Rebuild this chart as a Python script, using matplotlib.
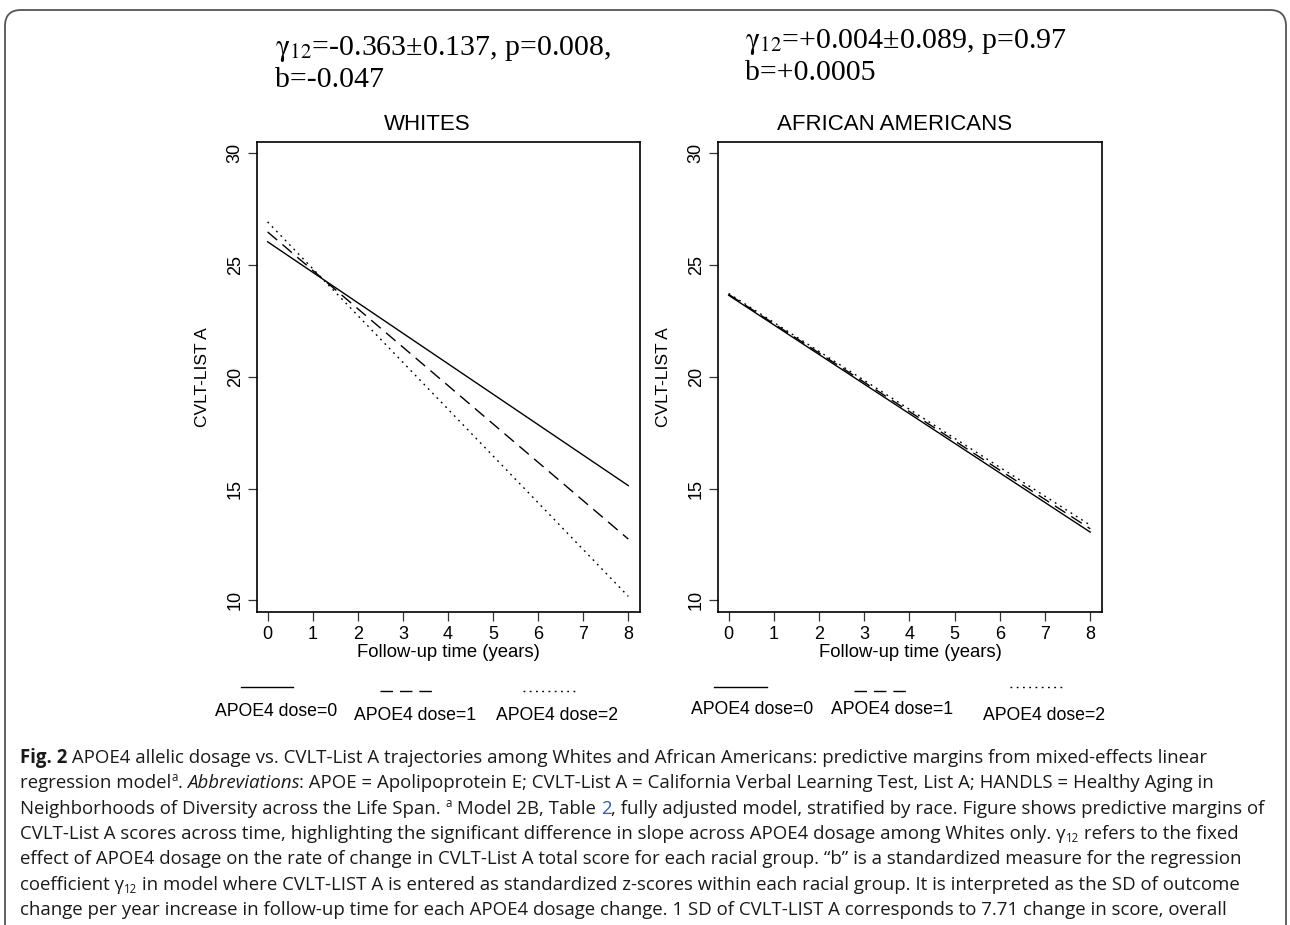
import matplotlib
matplotlib.use("Agg")
import matplotlib.pyplot as plt
from matplotlib.lines import Line2D
from matplotlib.patches import FancyBboxPatch
from matplotlib.transforms import IdentityTransform

# data
years = [0, 8]
doses = ["APOE4 dose=0", "APOE4 dose=1", "APOE4 dose=2"]
whites = [[26.03, 15.13], [26.47, 12.74], [26.92, 10.18]]
african_americans = [[23.64, 13.05], [23.68, 13.2], [23.72, 13.36]]
panel_titles = ["WHITES", "AFRICAN AMERICANS"]
stats_text = [
    [r"$\mathrm{\gamma}_{12}$=-0.363±0.137, p=0.008,", "b=-0.047"],
    [r"$\mathrm{\gamma}_{12}$=+0.004±0.089, p=0.97", "b=+0.0005"],
]
yticks = [10, 15, 20, 25, 30]
xticks = list(range(0, 9))

W, H = 1290, 925
plt.rcParams["font.family"] = ["Liberation Sans", "DejaVu Sans"]
plt.rcParams["mathtext.fontset"] = "stix"

styles = ["-", (0, (9, 5)), (0, (1.3, 3.2))]

fig = plt.figure(figsize=(W / 100, H / 100), dpi=100)


def fx(px):
    return px / W


def fy(py):
    return 1 - py / H


axes_px = [(257, 640), (718, 1102)]
for i, (x0, x1) in enumerate(axes_px):
    ax = fig.add_axes([fx(x0), fy(612), fx(x1 - x0), (612 - 142) / H])
    data = whites if i == 0 else african_americans
    for vals, ls in zip(data, styles):
        ax.plot(years, vals, color="black", lw=1.0, linestyle=ls)
    ax.set_xlim(-0.235, 8.26)
    ax.set_ylim(9.48, 30.49)
    ax.set_xticks(xticks)
    ax.set_yticks(yticks)
    ax.tick_params(axis="both", length=6.5, width=0.9, color="#333333",
                   labelsize=13)
    ax.tick_params(axis="x", pad=3.5)
    ax.tick_params(axis="y", pad=3)
    for lab in ax.get_yticklabels():
        lab.set_rotation(90)
        lab.set_va("center")
    for sp in ax.spines.values():
        sp.set_linewidth(1.2)
    ax.set_xlabel("Follow-up time (years)", fontsize=13.3, labelpad=1)
    ax.set_ylabel("CVLT-LIST A", fontsize=12.5, labelpad=12)

# panel titles (centred over the whole panel, a bit left of the axes)
fig.text(fx(427), fy(125), panel_titles[0], fontsize=16, ha="center", va="center")
fig.text(fx(895), fy(125), panel_titles[1], fontsize=16, ha="center", va="center")

# stats above each panel
serif = ["Liberation Serif", "DejaVu Serif"]
for (xp, ys), lines in zip([(275, (55, 87)), (745, (48, 80))], stats_text):
    for yb, s in zip(ys, lines):
        fig.text(fx(xp), fy(yb), s, fontsize=21.5, family=serif, va="baseline")

# legends under each panel
leg_lines = [[(241, 293, 687), (380, 432, 691), (523, 577, 691)],
             [(714, 767, 687), (854, 907, 691), (1010, 1064, 687)]]
leg_labels = [[(276, 711), (415, 715), (557, 715)],
              [(752, 710), (892, 710), (1044, 715)]]
for segs, labs in zip(leg_lines, leg_labels):
    for (a, b, yy), (cx, cy), ls, name in zip(segs, labs, styles, doses):
        fig.add_artist(Line2D([fx(a), fx(b)], [fy(yy), fy(yy)], color="black",
                              lw=1.0, linestyle=ls, transform=fig.transFigure))
        fig.text(fx(cx), fy(cy), name, fontsize=12.7, ha="center", va="center")

# rounded frame, open at the bottom
fig.add_artist(FancyBboxPatch((5, -60), W - 9, H - 10 + 60,
                              boxstyle="round,pad=0,rounding_size=16",
                              fc="none", ec="#555555", lw=1.3,
                              transform=IdentityTransform()))

# caption
cap_font = ["Open Sans", "DejaVu Sans"]
cap_size = 13.4
caption = [
    [("Fig. 2", "b"), (" APOE4 allelic dosage vs. CVLT-List A trajectories among Whites and African Americans: predictive margins from mixed-effects linear", "n")],
    [("regression model", "n"), ("a", "sup"), (". ", "n"), ("Abbreviations", "i"),
     (": APOE = Apolipoprotein E; CVLT-List A = California Verbal Learning Test, List A; HANDLS = Healthy Aging in", "n")],
    [("Neighborhoods of Diversity across the Life Span. ", "n"), ("a", "sup"), (" Model 2B, Table ", "n"),
     ("2", "link"), (", fully adjusted model, stratified by race. Figure shows predictive margins of", "n")],
    [("CVLT-List A scores across time, highlighting the significant difference in slope across APOE4 dosage among Whites only. γ", "n"),
     ("12", "sub"), (" refers to the fixed", "n")],
    [("effect of APOE4 dosage on the rate of change in CVLT-List A total score for each racial group. \u201cb\u201d is a standardized measure for the regression", "n")],
    [("coefficient γ", "n"), ("12", "sub"),
     (" in model where CVLT-LIST A is entered as standardized z-scores within each racial group. It is interpreted as the SD of outcome", "n")],
    [("change per year increase in follow-up time for each APOE4 dosage change. 1 SD of CVLT-LIST A corresponds to 7.71 change in score, overall", "n")],
]
line_y = [757, 782, 808, 833, 858, 884, 909]

renderer = fig.canvas.get_renderer()


def piece_props(kind):
    props = dict(fontsize=cap_size, family=cap_font, color="#1a1a1a")
    dy = 0
    if kind == "b":
        props["weight"] = "bold"
    elif kind == "i":
        props["style"] = "italic"
    elif kind == "link":
        props["color"] = "#2a5db0"
    elif kind == "sup":
        props["fontsize"] = cap_size * 0.62
        dy = -7
    elif kind == "sub":
        props["fontsize"] = cap_size * 0.62
        dy = 3
    return props, dy


def text_width(s, props):
    # pad with bars so leading/trailing spaces are counted
    t1 = fig.text(0, 0, "|" + s + "|", **props)
    t2 = fig.text(0, 0, "||", **props)
    w = t1.get_window_extent(renderer).width - t2.get_window_extent(renderer).width
    t1.remove()
    t2.remove()
    return w


for pieces, yb in zip(caption, line_y):
    x = 20.0
    for s, kind in pieces:
        props, dy = piece_props(kind)
        fig.text(fx(x), fy(yb + 6 + dy), s, va="baseline", **props)
        x += text_width(s, props) - (1 if kind == "i" else 0)

fig.savefig("out.png", dpi=100)
